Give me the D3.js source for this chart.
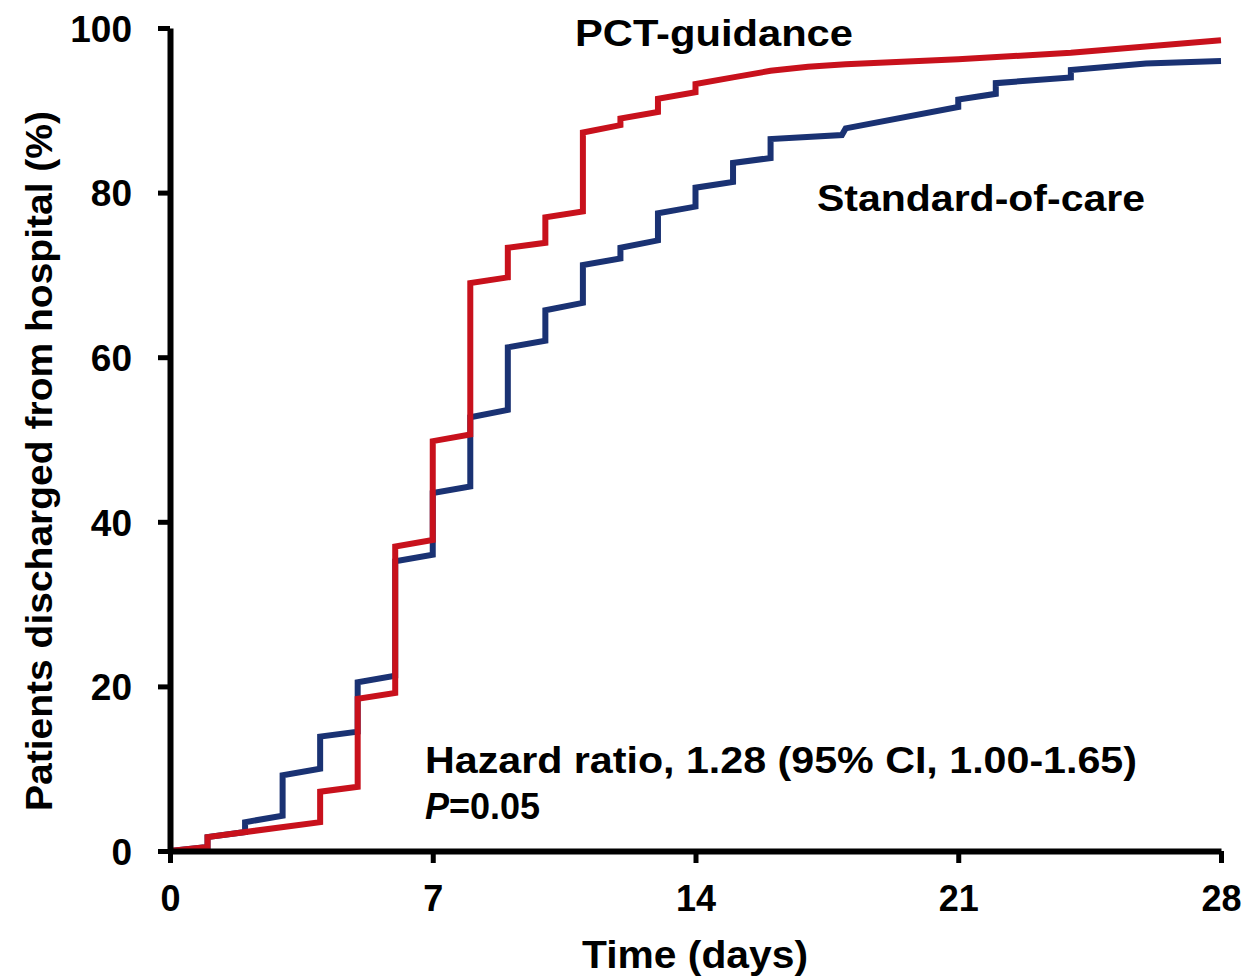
<!DOCTYPE html>
<html>
<head>
<meta charset="utf-8">
<script src="https://cdn.jsdelivr.net/npm/d3@7"></script>
<style>
  html, body { margin: 0; padding: 0; background: #ffffff; }
  svg { display: block; font-family: "Liberation Sans", Arial, sans-serif; }
</style>
</head>
<body>
<svg id="chart" width="1249" height="980"></svg>
<script>
// ---- Data ----
const xTicks = [0, 7, 14, 21, 28];
const yTicks = [0, 20, 40, 60, 80, 100];

// PCT-guidance curve vertices (day, % discharged)
const pctDays   = [0, 1, 1, 4, 4, 5, 5, 6, 6, 7, 7, 8, 8, 9, 9, 10, 10, 11, 11, 12, 12, 13, 13, 14, 14, 15, 16, 17, 18, 21, 24, 28];
const pctValues = [0, 0.5, 1.7, 3.5, 7.2, 7.8, 18.5, 19.2, 37.0, 37.8, 49.8, 50.6, 69.0, 69.7, 73.3, 73.9, 77.0, 77.7, 87.3, 88.2, 89.0, 89.8, 91.4, 92.2, 93.2, 94.0, 94.8, 95.3, 95.6, 96.2, 97.0, 98.5];

// Standard-of-care curve vertices (day, % discharged)
const socDays   = [0, 1, 1, 2, 2, 3, 3, 4, 4, 5, 5, 6, 6, 7, 7, 8, 8, 9, 9, 10, 10, 11, 11, 12, 12, 13, 13, 14, 14, 15, 15, 16, 16, 17.9, 18, 21, 21, 22, 22, 24, 24, 26, 28];
const socValues = [0, 0.5, 1.7, 2.3, 3.5, 4.3, 9.2, 10.0, 13.9, 14.5, 20.5, 21.3, 35.2, 36.0, 43.5, 44.3, 52.7, 53.6, 61.2, 62.0, 65.7, 66.6, 71.2, 72.0, 73.3, 74.2, 77.5, 78.3, 80.6, 81.3, 83.6, 84.2, 86.5, 87.0, 87.8, 90.4, 91.3, 92.0, 93.3, 94.0, 94.9, 95.7, 96.0];

const seriesNames = ["PCT-guidance", "Standard-of-care"];
const annotation1 = "Hazard ratio, 1.28 (95% CI, 1.00-1.65)";
const annotation2 = "=0.05";

// ---- Drawing ----
const svg = d3.select("#chart");
const x = d3.scaleLinear().domain([0, 28]).range([170, 1221]);
const y = d3.scaleLinear().domain([0, 100]).range([851, 28]);

const line = d3.line().x(d => x(d[0])).y(d => y(d[1])).curve(d3.curveLinear);

const socPts = socDays.map((d, i) => [d, socValues[i]]);
const pctPts = pctDays.map((d, i) => [d, pctValues[i]]);

svg.append("path").attr("d", line(socPts))
  .attr("fill", "none").attr("stroke", "#1a3273").attr("stroke-width", 6)
  .attr("stroke-linejoin", "miter");
svg.append("path").attr("d", line(pctPts))
  .attr("fill", "none").attr("stroke", "#c8111c").attr("stroke-width", 6)
  .attr("stroke-linejoin", "miter");

// Axes
const yAxis = svg.append("g").attr("transform", `translate(${x(0)},0)`)
  .call(d3.axisLeft(y).tickValues(yTicks).tickSize(12).tickPadding(26).tickSizeOuter(0));
const xAxis = svg.append("g").attr("transform", `translate(0,${y(0)})`)
  .call(d3.axisBottom(x).tickValues(xTicks).tickSize(12).tickPadding(22).tickSizeOuter(0));

[yAxis, xAxis].forEach(g => {
  g.select(".domain").attr("stroke", "#000").attr("stroke-width", 6);
  g.selectAll(".tick line").attr("stroke", "#000").attr("stroke-width", 5);
  g.selectAll(".tick text").attr("fill", "#000").attr("font-weight", "bold")
    .attr("font-family", "Liberation Sans, Arial, sans-serif");
});
yAxis.selectAll(".tick text").attr("font-size", 37).attr("dy", "0.36em");
xAxis.selectAll(".tick text").attr("font-size", 36).attr("dy", "0.71em");

// Axis titles
svg.append("text")
  .attr("transform", `translate(52,461) rotate(-90)`)
  .attr("text-anchor", "middle")
  .attr("font-size", 36).attr("font-weight", "bold")
  .attr("textLength", 700).attr("lengthAdjust", "spacingAndGlyphs")
  .text("Patients discharged from hospital (%)");

svg.append("text")
  .attr("x", 695).attr("y", 968)
  .attr("text-anchor", "middle")
  .attr("font-size", 38).attr("font-weight", "bold")
  .attr("textLength", 226).attr("lengthAdjust", "spacingAndGlyphs")
  .text("Time (days)");

// Series labels
svg.append("text")
  .attr("x", 575).attr("y", 46)
  .attr("font-size", 36).attr("font-weight", "bold")
  .attr("textLength", 278).attr("lengthAdjust", "spacingAndGlyphs")
  .text(seriesNames[0]);
svg.append("text")
  .attr("x", 817).attr("y", 211)
  .attr("font-size", 36).attr("font-weight", "bold")
  .attr("textLength", 328).attr("lengthAdjust", "spacingAndGlyphs")
  .text(seriesNames[1]);

// Annotation
svg.append("text")
  .attr("x", 425).attr("y", 773)
  .attr("font-size", 36).attr("font-weight", "bold")
  .attr("textLength", 712).attr("lengthAdjust", "spacingAndGlyphs")
  .text(annotation1);
const p = svg.append("text")
  .attr("x", 425).attr("y", 819)
  .attr("font-size", 36).attr("font-weight", "bold");
p.append("tspan").attr("font-style", "italic").text("P");
p.append("tspan").text(annotation2);
</script>
</body>
</html>
